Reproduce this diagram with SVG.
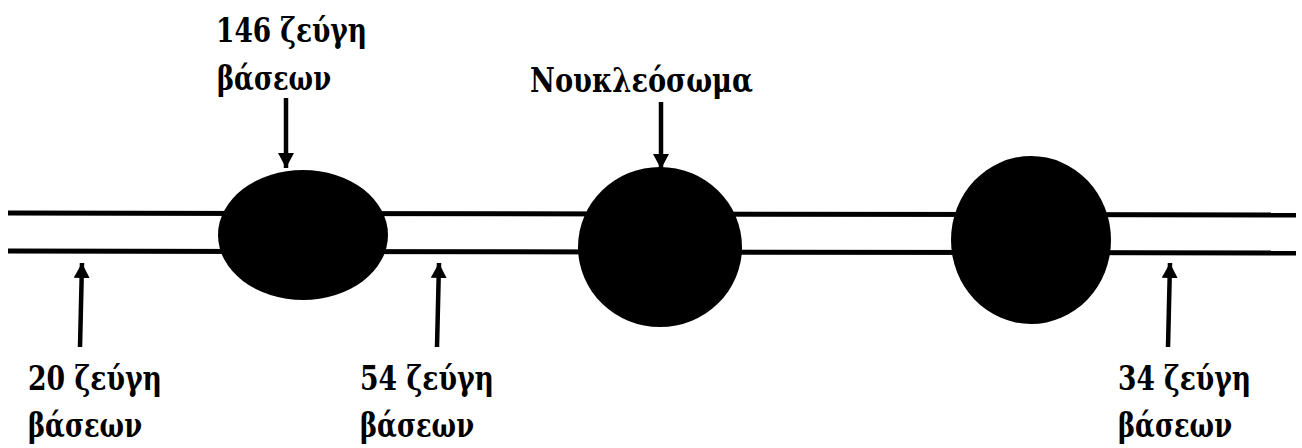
<svg xmlns="http://www.w3.org/2000/svg" width="1302" height="448" viewBox="0 0 1302 448">
  <style>
    .strand { stroke: #000; stroke-width: 5; fill: none; }
    .bead { fill: #000; }
    .arrow { stroke: #000; stroke-width: 4.5; fill: none; marker-end: url(#head); }
    .lbl { font-family: 'DejaVu Serif Condensed', 'DejaVu Serif', serif; font-stretch: condensed; font-weight: bold; font-size: 34px; fill: #000; }
  </style>
  <defs>
    <marker id="head" markerUnits="userSpaceOnUse" markerWidth="16" markerHeight="16" refX="15" refY="8" orient="auto">
      <path d="M0,0 L15,8 L0,16 Z" fill="#000"/>
    </marker>
  </defs>

  <!-- linker DNA: two parallel strands -->
  <g id="dna">
    <line class="strand" x1="8" y1="213" x2="1296" y2="215"/>
    <line class="strand" x1="8" y1="251" x2="1296" y2="253"/>
  </g>

  <!-- nucleosome beads -->
  <g id="bead1"><ellipse class="bead" cx="303" cy="235" rx="85" ry="65"/></g>
  <g id="bead2"><ellipse class="bead" cx="660" cy="247" rx="82" ry="80"/></g>
  <g id="bead3"><ellipse class="bead" cx="1031" cy="240" rx="80" ry="84"/></g>

  <!-- labels -->
  <g id="label-146">
    <text class="lbl" x="216" y="42" textLength="151" lengthAdjust="spacingAndGlyphs">146 ζεύγη</text>
    <text class="lbl" x="217" y="90" textLength="114" lengthAdjust="spacingAndGlyphs">βάσεων</text>
  </g>
  <g id="label-nucleosome">
    <text class="lbl" x="530" y="92" textLength="223" lengthAdjust="spacingAndGlyphs">Νουκλεόσωμα</text>
  </g>
  <g id="label-20">
    <text class="lbl" x="28" y="390" textLength="134" lengthAdjust="spacingAndGlyphs">20 ζεύγη</text>
    <text class="lbl" x="28" y="437" textLength="114" lengthAdjust="spacingAndGlyphs">βάσεων</text>
  </g>
  <g id="label-54">
    <text class="lbl" x="360" y="390" textLength="134" lengthAdjust="spacingAndGlyphs">54 ζεύγη</text>
    <text class="lbl" x="360" y="437" textLength="114" lengthAdjust="spacingAndGlyphs">βάσεων</text>
  </g>
  <g id="label-34">
    <text class="lbl" x="1118" y="390" textLength="133" lengthAdjust="spacingAndGlyphs">34 ζεύγη</text>
    <text class="lbl" x="1118" y="437" textLength="114" lengthAdjust="spacingAndGlyphs">βάσεων</text>
  </g>

  <!-- pointer arrows -->
  <g id="connectors">
    <line class="arrow" x1="286" y1="98" x2="286" y2="168"/>
    <line class="arrow" x1="661" y1="102" x2="661" y2="169"/>
    <line class="arrow" x1="80" y1="347" x2="82" y2="263"/>
    <line class="arrow" x1="437" y1="347" x2="439" y2="263"/>
    <line class="arrow" x1="1168" y1="347" x2="1170" y2="263"/>
  </g>
</svg>
